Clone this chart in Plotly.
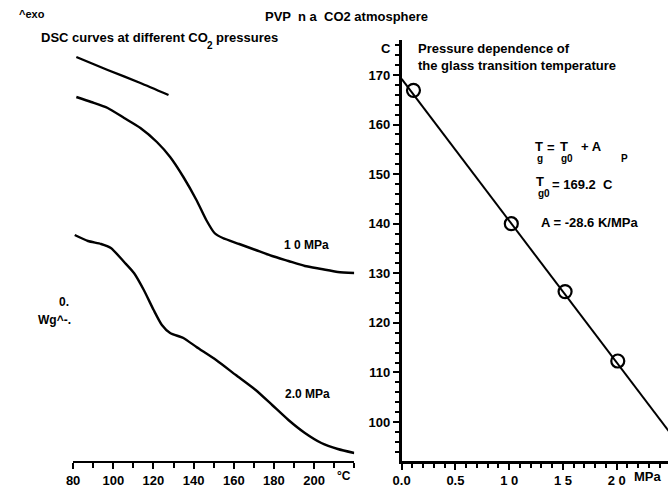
import plotly.graph_objects as go

# ---------------- data ----------------
# Left panel: DSC curves, temperature in °C, heat flow in arbitrary units
top_T = [81.6, 97.2, 113.5, 127.5]
top_H = [40.4, 39.1, 37.8, 36.6]

mpa10_T = [81.6, 89.0, 97.2, 105.4, 113.5, 121.7, 128.3, 134.9, 141.4, 146.3,
           150.4, 154.5, 162.7, 170.9, 179.1, 187.2, 195.4, 203.6, 211.8, 220.0]
mpa10_H = [36.4, 35.9, 35.3, 34.3, 33.3, 31.9, 30.4, 28.4, 26.1, 24.1,
           22.8, 22.3, 21.7, 21.1, 20.5, 20.0, 19.5, 19.2, 18.9, 18.8]

mpa20_T = [80.8, 87.4, 93.9, 98.8, 105.4, 110.3, 115.2, 120.1, 124.2, 128.3,
           134.9, 141.4, 151.2, 161.0, 170.9, 179.1, 187.2, 195.4, 203.6, 211.8, 220.0]
mpa20_H = [22.6, 22.0, 21.7, 21.3, 19.9, 18.8, 17.1, 15.1, 13.6, 12.8,
           12.3, 11.4, 10.1, 8.6, 7.1, 5.6, 4.1, 2.8, 1.8, 1.2, 0.8]

left_tickvals = [80, 100, 120, 140, 160, 180, 200]
left_ticktext = ["80", "100", "120", "140", "160", "180", "200"]

# Right panel: glass transition temperature vs CO2 pressure
pressure = [0.11, 1.02, 1.52, 2.01]
tg = [166.9, 140.0, 126.3, 112.3]
tg0 = 169.2
slope_A = -28.6
fit_p = [0.0, 2.6]

right_xvals = [0.0, 0.5, 1.0, 1.5, 2.0]
right_xtext = ["0.0", "0.5", "1 0", "1 5", "2 0"]
right_yvals = [100, 110, 120, 130, 140, 150, 160, 170]

# ---------------- figure ----------------
W, H = 668, 493
FONT = "Liberation Sans, Arial, sans-serif"


def px(x):
    return x / W


def py(y):
    return 1 - y / H


fig = go.Figure()
line_style = dict(color="black", width=2.4, shape="spline", smoothing=0.6)
fig.add_trace(go.Scatter(x=top_T, y=top_H, mode="lines", line=line_style,
                         xaxis="x", yaxis="y", showlegend=False))
fig.add_trace(go.Scatter(x=mpa10_T, y=mpa10_H, mode="lines", line=line_style,
                         xaxis="x", yaxis="y", showlegend=False))
fig.add_trace(go.Scatter(x=mpa20_T, y=mpa20_H, mode="lines", line=line_style,
                         xaxis="x", yaxis="y", showlegend=False))

fit_tg = [tg0 + slope_A * p for p in fit_p]
fig.add_trace(go.Scatter(x=fit_p, y=fit_tg, mode="lines",
                         line=dict(color="black", width=2),
                         xaxis="x2", yaxis="y2", showlegend=False))
fig.add_trace(go.Scatter(x=pressure, y=tg, mode="markers",
                         marker=dict(symbol="circle-open", size=13, color="black",
                                     line=dict(width=2.2, color="black")),
                         xaxis="x2", yaxis="y2", showlegend=False))

bottom_px, top_px = 461, 40
ydom = [py(bottom_px), py(top_px)]

tickfont = dict(family=FONT, size=13, color="black", weight="bold")

fig.update_layout(
    width=W, height=H,
    margin=dict(l=0, r=0, t=0, b=0),
    paper_bgcolor="white", plot_bgcolor="white",
    font=dict(family=FONT, color="black", size=13),
    xaxis=dict(domain=[px(65), px(350)], range=[80, 220],
               tickvals=left_tickvals, ticktext=left_ticktext,
               ticks="outside", ticklen=6, tickwidth=2, tickcolor="black",
               minor=dict(dtick=10, tick0=80, ticks="outside", ticklen=5,
                          tickwidth=2, tickcolor="black"),
               showline=True, linecolor="black", linewidth=2,
               showgrid=False, zeroline=False, tickfont=tickfont,
               anchor="y"),
    yaxis=dict(domain=ydom, range=[0, (bottom_px - top_px) / 10],
               visible=False, anchor="x"),
    xaxis2=dict(domain=[px(398), 1.0], range=[0, (W - 398) / 109],
                tickvals=right_xvals, ticktext=right_xtext,
                ticks="outside", ticklen=6, tickwidth=2, tickcolor="black",
                minor=dict(dtick=0.1, tick0=0, ticks="outside", ticklen=4,
                           tickwidth=1.5, tickcolor="black"),
                showline=True, linecolor="black", linewidth=2.5,
                showgrid=False, zeroline=False, tickfont=tickfont,
                anchor="y2"),
    yaxis2=dict(domain=ydom,
                range=[170 - (bottom_px - 75) / 4.957, 170 + (75 - top_px) / 4.957],
                tickvals=right_yvals,
                ticks="outside", ticklen=6, tickwidth=2, tickcolor="black",
                minor=dict(dtick=2, tick0=100, ticks="outside", ticklen=4,
                           tickwidth=1.5, tickcolor="black"),
                showline=True, linecolor="black", linewidth=2.5,
                showgrid=False, zeroline=False, tickfont=tickfont,
                anchor="x2"),
)

bold = lambda s: dict(family=FONT, size=s, color="black", weight="bold")


def txt(text, x, y, size=13, xanchor="left"):
    return dict(text=text, x=px(x), y=py(y), xref="paper", yref="paper",
                xanchor=xanchor, yanchor="middle", font=bold(size),
                showarrow=False)


annotations = [
    txt("^exo", 8, 14, 11),
    txt("PVP  n a  CO2 atmosphere", 257, 16, 13),
    txt("DSC curves at different CO", 30, 38, 13),
    txt("2", 199, 45, 10),
    txt("pressures", 208, 38, 13),
    dict(text="1 0 MPa", x=196, y=21.6, xref="x", yref="y", xanchor="center",
         yanchor="middle", font=bold(12), showarrow=False),
    dict(text="2.0 MPa", x=196.5, y=6.7, xref="x", yref="y", xanchor="center",
         yanchor="middle", font=bold(12), showarrow=False),
    txt("0.", 63, 302, 12, "right"),
    txt("Wg^-.", 65, 320, 12, "right"),
    txt("°C", 340, 476, 12, "center"),
    txt("C", 389, 48, 13, "right"),
    txt("Pressure dependence of", 413, 48, 13),
    txt("the glass transition temperature", 413, 65, 13),
    # Tg = Tg0 + A p
    txt("T", 531, 146, 13),
    txt("g", 533, 159, 10),
    txt("=", 543, 147, 13),
    txt("T", 556, 146, 13),
    txt("g0", 558, 159, 10),
    txt("+ A", 578, 146, 13),
    txt("P", 618, 159, 10),
    # Tg0 = 169.2 C
    txt("T", 532, 181, 13),
    txt("g0", 534, 193, 10),
    txt("= %.1f  C" % tg0, 548, 184, 13),
    # A = -28.6 K/MPa
    txt("A = %.1f K/MPa" % slope_A, 537, 222, 13),
    txt("MPa", 648, 476, 13, "center"),
]
fig.update_layout(annotations=annotations)

fig.write_html("out.html")
